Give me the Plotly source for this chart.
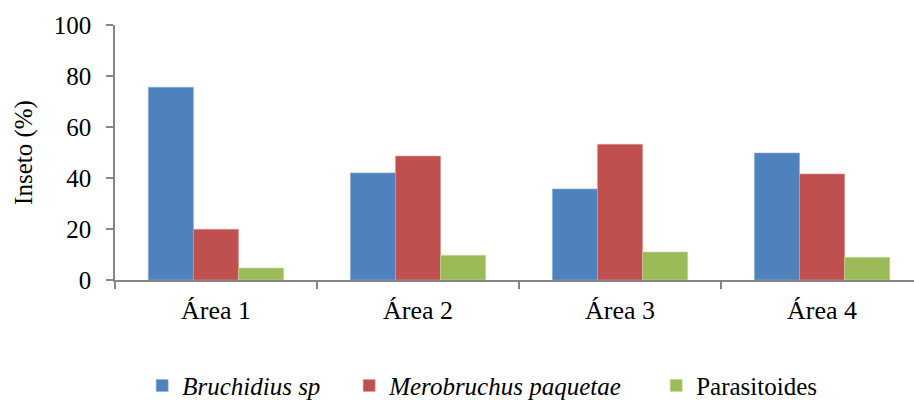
import plotly.graph_objects as go

areas = ["Área 1", "Área 2", "Área 3", "Área 4"]
bruchidius = [75.6, 42.0, 35.7, 49.8]
merobruchus = [19.9, 48.6, 53.2, 41.6]
parasitoides = [4.7, 9.7, 11.0, 8.9]

# name, values, fill, edge, legend entry width (px)
series = [
    ("<i>Bruchidius sp</i>", bruchidius, "#4F81BD", "#8FB0D8", 162),
    ("<i>Merobruchus paquetae</i>", merobruchus, "#C0504D", "#DC9A98", 262),
    ("Parasitoides", parasitoides, "#9BBB59", "#C7D9A2", None),
]

font_family = "Liberation Serif"
axis_grey = "#868686"

fig = go.Figure()
for name, vals, color, edge, lw in series:
    fig.add_trace(go.Bar(
        x=areas, y=vals, name=name,
        marker=dict(color=color, line=dict(color=edge, width=0.6)),
        legendwidth=lw,
    ))

fig.update_layout(
    width=914, height=404,
    margin=dict(l=115, r=0, t=25, b=124, autoexpand=False),
    paper_bgcolor="white", plot_bgcolor="white",
    barmode="group", bargap=0.33, bargroupgap=0,
    font=dict(family=font_family, size=25, color="black"),
    showlegend=True,
    legend=dict(
        orientation="h", x=0.034, xanchor="left", y=-0.415, yanchor="middle",
        font=dict(family=font_family, size=25, color="black"),
        itemwidth=30, tracegroupgap=0,
        traceorder="normal",
    ),
)

fig.update_xaxes(
    type="category", range=[-0.5, 3.455],
    showline=True, linecolor=axis_grey, linewidth=1.5,
    ticks="outside", tickson="boundaries", ticklen=7, tickcolor=axis_grey, tickwidth=1.5,
    showgrid=False, zeroline=False,
    tickfont=dict(family=font_family, size=26, color="black"),
    ticklabelstandoff=6,
)
fig.update_yaxes(
    range=[0, 100], tickvals=[0, 20, 40, 60, 80, 100],
    showline=True, linecolor=axis_grey, linewidth=1.5,
    ticks="outside", ticklen=7, tickcolor=axis_grey, tickwidth=1.5,
    showgrid=False, zeroline=False,
    tickfont=dict(family=font_family, size=25, color="black"),
    ticklabelstandoff=10,
    title=dict(text="Inseto (%)", font=dict(family=font_family, size=25, color="black"), standoff=14),
)

fig.write_html("out.html")
